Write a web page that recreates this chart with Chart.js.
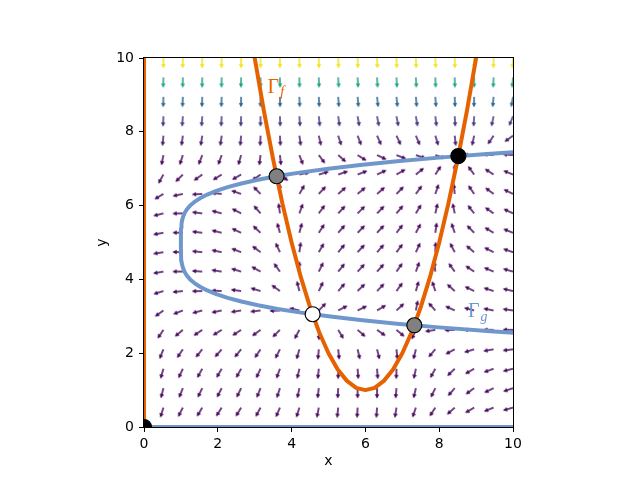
<!DOCTYPE html>
<html><head><meta charset="utf-8">
<script src="https://cdn.jsdelivr.net/npm/chart.js@4/dist/chart.umd.min.js"></script>
<style>html,body{margin:0;padding:0;background:#fff}canvas{display:block}</style>
</head><body>
<canvas id="c" width="640" height="480"></canvas>
<script>
// ---- data ----
const gridX = [0.526,1.053,1.579,2.105,2.632,3.158,3.684,4.211,4.737,5.263,5.789,6.316,6.842,7.368,7.895,8.421,8.947,9.474,10];
const gridY = [0.526,1.053,1.579,2.105,2.632,3.158,3.684,4.211,4.737,5.263,5.789,6.316,6.842,7.368,7.895,8.421,8.947,9.474,10];
// arrow direction (degrees, counter-clockwise from +x), rows bottom -> top
const arrowAngles = [
 [-107,-117,-121,-122,-121,-118,-113,-107,-101,-96,-93,-94,-99,-109,-123,-138,-149,-158,-164],
 [-104,-112,-116,-117,-116,-112,-108,-102,-97,-93,-90,-90,-95,-103,-116,-131,-144,-154,-161],
 [-106,-115,-119,-120,-119,-115,-110,-103,-96,-90,-86,-86,-91,-102,-119,-136,-150,-160,-166],
 [-112,-124,-129,-131,-129,-124,-117,-106,-95,-84,-77,-76,-84,-104,-131,-152,-163,-170,-173],
 [-124,-140,-146,-148,-147,-144,-135,-118,-89,-59,-41,-35,-40,-114,-171,-178,180,179,179],
 [-144,-159,-165,-168,-171,-173,-177,167,46,27,26,31,43,79,132,155,165,169,172],
 [-163,-174,-179,177,172,163,144,104,65,49,44,46,54,74,108,138,154,162,167],
 [-170,-180,176,171,163,151,126,90,64,51,47,48,55,70,96,126,146,157,164],
 [-171,179,174,168,159,143,115,82,60,50,47,48,53,65,88,117,140,153,161],
 [-170,179,173,166,155,137,106,75,57,49,46,47,52,62,82,109,134,149,158],
 [-166,-179,173,165,153,131,98,70,54,47,45,46,50,59,77,102,128,145,155],
 [-149,-168,-177,174,161,134,91,60,47,41,40,41,46,54,71,96,124,143,154],
 [-119,-135,-144,-148,-150,-145,-37,12,16,19,21,25,30,39,57,90,126,147,158],
 [-101,-108,-111,-110,-106,-97,-84,-69,-53,-41,-32,-25,-21,-18,-18,-38,178,175,175],
 [-95,-98,-99,-98,-95,-92,-87,-82,-77,-72,-69,-66,-65,-67,-73,-84,-102,-124,-144],
 [-92,-94,-94,-93,-92,-90,-88,-86,-84,-82,-80,-79,-79,-80,-83,-87,-93,-102,-112],
 [-91,-92,-92,-92,-91,-90,-89,-88,-87,-86,-85,-84,-84,-85,-86,-88,-91,-95,-100],
 [-91,-91,-91,-91,-91,-90,-89,-89,-88,-87,-87,-87,-87,-87,-88,-89,-90,-92,-95],
 [-90,-91,-91,-91,-90,-90,-90,-89,-89,-88,-88,-88,-88,-88,-88,-89,-90,-91,-93]
];
// arrow colour per row (speed, viridis)
const rowColors = ['#46085c','#46085c','#46085c','#46085c','#46085c','#46085c','#46085c','#46085c','#46085c','#46085c',
 '#46085c','#46085c','#46085c','#46085c','#481769','#453781','#31668e','#21a386','#eee51c'];

// nullcline Gamma_f (parabola)
const gammaFX = [2.75,3,3.25,3.5,3.75,4,4.25,4.5,4.75,5,5.25,5.5,5.75,6,6.25,6.5,6.75,7,7.25,7.5,7.75,8,8.25,8.5,8.75,9,9.25];
const gammaFY = [11.56,10,8.56,7.25,6.06,5,4.06,3.25,2.56,2,1.56,1.25,1.06,1,1.06,1.25,1.56,2,2.56,3.25,4.06,5,6.06,7.25,8.56,10,11.56];
// nullcline Gamma_g (C-shaped curve)
const gammaGY = [2.5,2.6,2.7,2.8,2.9,3.0,3.1,3.2,3.3,3.4,3.5,3.6,3.7,3.8,3.9,4.0,4.1,4.2,4.3,4.4,4.5,4.6,4.7,4.8,4.9,5.0,
 5.1,5.2,5.3,5.4,5.5,5.6,5.7,5.8,5.9,6.0,6.1,6.2,6.3,6.4,6.5,6.6,6.7,6.8,6.9,7.0,7.1,7.2,7.3,7.4,7.5];
const gammaGX = [10.766,9.294,7.996,6.856,5.862,5.0,4.258,3.624,3.088,2.638,2.266,1.960,1.714,1.518,1.366,1.25,1.164,1.102,1.060,1.032,1.016,1.006,1.002,1.000,1.000,1.0,
 1.000,1.000,1.002,1.006,1.016,1.032,1.060,1.102,1.164,1.25,1.366,1.518,1.714,1.960,2.266,2.638,3.088,3.624,4.258,5.0,5.862,6.856,7.996,9.294,10.766];
// trivial nullclines x=0 (f) and y=0 (g)
const fAxisX = [0,0], fAxisY = [0,10];
const gAxisX = [0,10], gAxisY = [0,0];
// fixed points
const fixedX = [0, 3.594, 4.57, 7.326, 8.519];
const fixedY = [0, 6.795, 3.056, 2.757, 7.342];
const fixedFill = ['#000000','#808080','#ffffff','#808080','#000000'];
// ticks
const xTicks = [0,2,4,6,8,10];
const yTicks = [0,2,4,6,8,10];
// curve labels
const labelMain = ['\u0393','\u0393'];
const labelSub = ['f','g'];
const labelX = [3.35, 8.78];
const labelY = [9.06, 2.98];

const orange = '#e66100';
const blue = '#7097cc';
const labelColors = [orange, blue];

// ---- arrow glyphs ----
const arrowCache = {};
function arrowGlyph(color){
  if (arrowCache[color]) return arrowCache[color];
  const W = 26, H = 10, cx = W/2, cy = H/2;
  const L = 10.5, s = 0.7, h = 2.3, hl = 4.3;
  const c = document.createElement('canvas');
  c.width = W; c.height = H;
  const g = c.getContext('2d');
  g.fillStyle = color;
  g.beginPath();
  g.moveTo(cx, cy - s);
  g.lineTo(cx + L - hl, cy - s);
  g.lineTo(cx + L - hl, cy - h);
  g.lineTo(cx + L, cy);
  g.lineTo(cx + L - hl, cy + h);
  g.lineTo(cx + L - hl, cy + s);
  g.lineTo(cx, cy + s);
  g.closePath();
  g.fill();
  arrowCache[color] = c;
  return c;
}

const datasets = [];
arrowAngles.forEach((row, j) => {
  datasets.push({
    data: gridX.map((x) => ({x: x, y: gridY[j]})),
    pointStyle: arrowGlyph(rowColors[j]),
    pointRotation: row.map(a => -a),
    pointRadius: 1,
    showLine: false,
    clip: 0,
    order: 10
  });
});
function lineSet(xs, ys, color){
  return {
    data: xs.map((x, i) => ({x: x, y: ys[i]})),
    showLine: true, borderColor: color, borderWidth: 4, pointRadius: 0,
    fill: false, tension: 0, clip: 0, order: 5, borderCapStyle: 'butt', borderJoinStyle: 'round'
  };
}
datasets.push(lineSet(fAxisX, fAxisY, orange));
datasets.push(lineSet(gAxisX, gAxisY, blue));
datasets.push(lineSet(gammaGX, gammaGY, blue));
datasets.push(lineSet(gammaFX, gammaFY, orange));
datasets.push({
  data: fixedX.map((x, i) => ({x: x, y: fixedY[i]})),
  showLine: false, pointRadius: 7.5, pointBackgroundColor: fixedFill,
  pointBorderColor: '#000', pointBorderWidth: 1.2, clip: 0, order: 1
});

const framePlugin = {
  id: 'frame',
  afterDatasetsDraw(chart){
    const {ctx, chartArea: a, scales: {x, y}} = chart;
    ctx.save();
    // curve labels
    labelMain.forEach((t, i) => {
      const px = x.getPixelForValue(labelX[i]);
      const py = y.getPixelForValue(labelY[i]);
      ctx.fillStyle = labelColors[i];
      ctx.textBaseline = 'alphabetic';
      ctx.textAlign = 'left';
      ctx.font = '20px "Liberation Serif"';
      ctx.fillText(t, px, py);
      const w = ctx.measureText(t).width;
      ctx.font = 'italic 14px "Liberation Serif"';
      ctx.fillText(labelSub[i], px + w + 1, py + 3.5);
    });
    ctx.strokeStyle = '#000';
    ctx.lineWidth = 1;
    ctx.strokeRect(a.left - 0.5, a.top - 0.5, a.right - a.left + 1, a.bottom - a.top + 1);
    ctx.restore();
  }
};

Chart.defaults.font.family = '"DejaVu Sans"';
Chart.defaults.color = '#000';

new Chart(document.getElementById('c'), {
  type: 'scatter',
  data: {datasets},
  options: {
    responsive: false, animation: false, events: [],
    devicePixelRatio: 1,
    layout: {padding: {left: 0, right: 127, top: 58, bottom: 0}},
    plugins: {legend: {display: false}, tooltip: {enabled: false}},
    scales: {
      x: {
        type: 'linear', min: 0, max: 10,
        afterBuildTicks: s => { s.ticks = xTicks.map(v => ({value: v})); },
        afterFit: s => { s.height = 53; },
        ticks: {color: '#000', font: {size: 14}, padding: 4, maxRotation: 0},
        grid: {display: true, drawOnChartArea: false, drawTicks: true, tickLength: 5, tickColor: '#000', tickWidth: 1},
        border: {display: true, color: '#000', width: 1},
        title: {display: true, text: 'x', color: '#000', font: {size: 14}, padding: {top: 0, bottom: 10}}
      },
      y: {
        type: 'linear', min: 0, max: 10,
        afterBuildTicks: s => { s.ticks = yTicks.map(v => ({value: v})); },
        afterFit: s => { s.width = 144; },
        ticks: {color: '#000', font: {size: 14}, padding: 5},
        grid: {display: true, drawOnChartArea: false, drawTicks: true, tickLength: 5, tickColor: '#000', tickWidth: 1},
        border: {display: true, color: '#000', width: 1},
        title: {display: true, text: 'y', color: '#000', font: {size: 14}, padding: {top: 94, bottom: 0}}
      }
    }
  },
  plugins: [framePlugin]
});
</script>
</body></html>
